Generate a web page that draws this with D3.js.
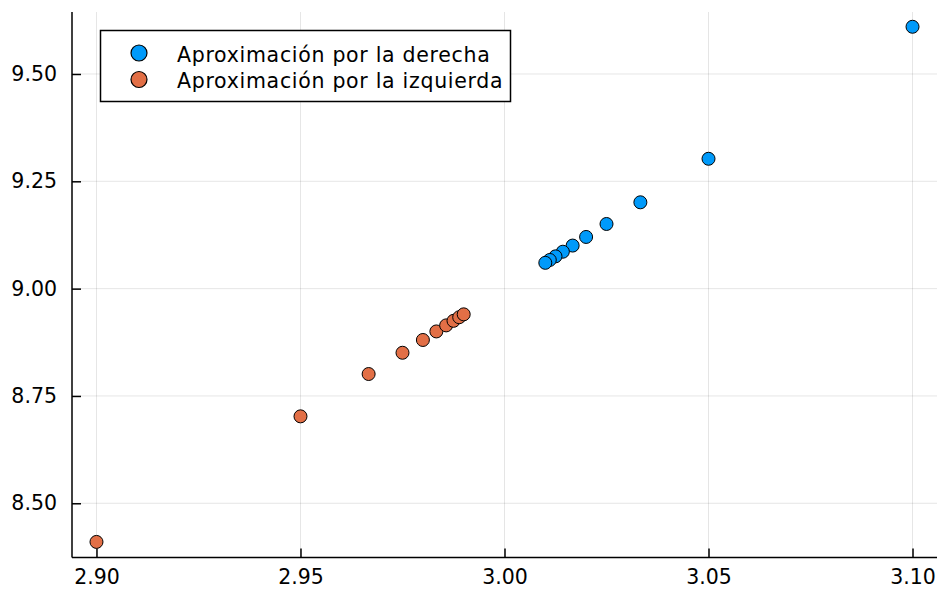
<!DOCTYPE html>
<html>
<head>
<meta charset="utf-8">
<script src="https://cdn.jsdelivr.net/npm/d3@7"></script>
<style>
  body { margin: 0; background: #fff; }
  text { font-family: "DejaVu Sans", sans-serif; fill: #000; }
</style>
</head>
<body>
<svg id="chart" width="941" height="592"></svg>
<script>
// right-hand approximation, x = 3 + 1/n
const xRight = [3.1, 3.05, 3.0333, 3.025, 3.02, 3.0167, 3.0143, 3.0125, 3.0111, 3.01];
const yRight = [9.61, 9.3025, 9.2011, 9.1506, 9.1204, 9.1003, 9.0860, 9.0752, 9.0668, 9.0601];
// left-hand approximation, x = 3 - 1/n
const xLeft = [2.9, 2.95, 2.9667, 2.975, 2.98, 2.9833, 2.9857, 2.9875, 2.9889, 2.99];
const yLeft = [8.41, 8.7025, 8.8011, 8.8506, 8.8804, 8.9003, 8.9144, 8.9250, 8.9334, 8.9401];

const xTicks = [2.90, 2.95, 3.00, 3.05, 3.10];
const yTicks = [8.50, 8.75, 9.00, 9.25, 9.50];
const seriesNames = ["Aproximación por la derecha", "Aproximación por la izquierda"];
const colors = ["#009afa", "#e26f46"];

const svg = d3.select("#chart");
const pLeft = 72, pRight = 937, pTop = 12, pBottom = 557.5;

const x = d3.scaleLinear().domain([2.894, 3.106]).range([pLeft, pRight]);
const y = d3.scaleLinear().domain([8.3737, 9.6444]).range([pBottom, pTop]);

// grid
svg.append("g").selectAll("line").data(xTicks).enter().append("line")
  .attr("x1", d => x(d)).attr("x2", d => x(d))
  .attr("y1", pTop).attr("y2", pBottom)
  .attr("stroke", "#000").attr("stroke-opacity", 0.1).attr("stroke-width", 1);
svg.append("g").selectAll("line").data(yTicks).enter().append("line")
  .attr("y1", d => y(d)).attr("y2", d => y(d))
  .attr("x1", pLeft).attr("x2", pRight)
  .attr("stroke", "#000").attr("stroke-opacity", 0.1).attr("stroke-width", 1);

// axes with inward ticks
const xAxis = svg.append("g").attr("transform", `translate(0,${pBottom})`)
  .call(d3.axisBottom(x).tickValues(xTicks).tickFormat(d3.format(".2f")).tickSizeInner(-9).tickSizeOuter(0).tickPadding(12));
const yAxis = svg.append("g").attr("transform", `translate(${pLeft},0)`)
  .call(d3.axisLeft(y).tickValues(yTicks).tickFormat(d3.format(".2f")).tickSizeInner(-9).tickSizeOuter(0).tickPadding(15));
[xAxis, yAxis].forEach(a => {
  a.select(".domain").attr("stroke", "#000").attr("stroke-width", 1.5);
  a.selectAll(".tick line").attr("stroke", "#000").attr("stroke-width", 1.5);
  a.selectAll(".tick text").attr("font-size", 20.5).attr("font-family", "DejaVu Sans, sans-serif");
});
yAxis.select(".domain").attr("d", `M0,${pTop}V${pBottom}`);
xAxis.select(".domain").attr("d", `M${pLeft},0H${pRight}`);

// points
const series = [
  xRight.map((d, i) => ({x: d, y: yRight[i]})),
  xLeft.map((d, i) => ({x: d, y: yLeft[i]}))
];
series.forEach((pts, s) => {
  svg.append("g").selectAll("circle").data(pts).enter().append("circle")
    .attr("cx", d => x(d.x)).attr("cy", d => y(d.y)).attr("r", 6.5)
    .attr("fill", colors[s]).attr("stroke", "#000").attr("stroke-width", 1);
});

// legend
const lg = svg.append("g");
lg.append("rect").attr("x", 100.5).attr("y", 30.5).attr("width", 410).attr("height", 71)
  .attr("fill", "#fff").attr("stroke", "#000").attr("stroke-width", 1.5);
seriesNames.forEach((name, i) => {
  lg.append("circle").attr("cx", 139).attr("cy", 53 + i * 26.5).attr("r", 8)
    .attr("fill", colors[i]).attr("stroke", "#000").attr("stroke-width", 1.2);
  lg.append("text").attr("x", 177).attr("y", 61.7 + i * 26.6)
    .attr("font-size", 20.5).attr("letter-spacing", "0.7px").text(name);
});
</script>
</body>
</html>
